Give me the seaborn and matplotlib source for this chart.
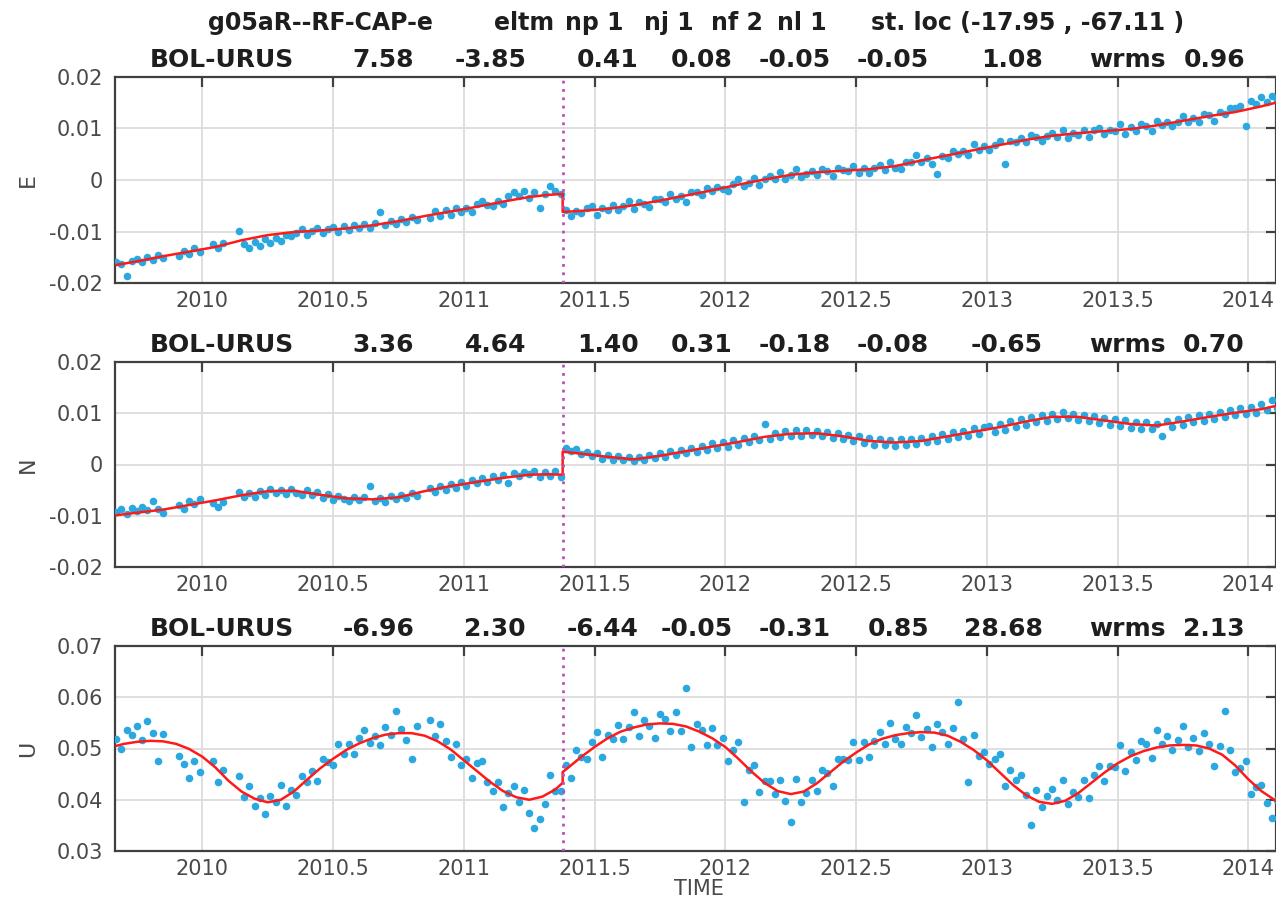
import matplotlib
matplotlib.use("Agg")
import matplotlib.pyplot as plt
import matplotlib.ticker as mticker
import numpy as np
import pandas as pd
import seaborn as sns

sns.set_theme(style="whitegrid")
plt.rcParams["font.family"] = ["DejaVu Sans"]

# ── data (decimal years, positions in mm) ───────────────────────────────────
TIME = [
    2009.67, 2009.69, 2009.71, 2009.73, 2009.75, 2009.77, 2009.79, 2009.81, 2009.83, 2009.85,
    2009.91, 2009.93, 2009.95, 2009.97, 2009.99,
    2010.04, 2010.06, 2010.08,
    2010.14, 2010.16, 2010.18, 2010.20, 2010.22, 2010.24, 2010.26, 2010.28, 2010.30, 2010.32,
    2010.34, 2010.36, 2010.38, 2010.40, 2010.42, 2010.44, 2010.46, 2010.48, 2010.50, 2010.52,
    2010.54, 2010.56, 2010.58, 2010.60, 2010.62, 2010.64, 2010.66, 2010.68, 2010.70, 2010.72,
    2010.74, 2010.76, 2010.78, 2010.80, 2010.82,
    2010.87, 2010.89, 2010.91, 2010.93, 2010.95, 2010.97, 2010.99,
    2011.01, 2011.03, 2011.05, 2011.07, 2011.09, 2011.11, 2011.13, 2011.15, 2011.17, 2011.19,
    2011.21, 2011.23, 2011.25, 2011.27, 2011.29, 2011.31, 2011.33, 2011.35, 2011.37, 2011.39,
    2011.41, 2011.43, 2011.45, 2011.47, 2011.49, 2011.51, 2011.53, 2011.55, 2011.57, 2011.59,
    2011.61, 2011.63, 2011.65, 2011.67, 2011.69, 2011.71, 2011.73, 2011.75, 2011.77, 2011.79,
    2011.81, 2011.83, 2011.85, 2011.87, 2011.89, 2011.91, 2011.93, 2011.95, 2011.97, 2011.99,
    2012.01, 2012.03, 2012.05, 2012.07, 2012.09, 2012.11, 2012.13, 2012.15, 2012.17, 2012.19,
    2012.21, 2012.23, 2012.25, 2012.27, 2012.29, 2012.31, 2012.33, 2012.35, 2012.37, 2012.39,
    2012.41, 2012.43, 2012.45, 2012.47, 2012.49, 2012.51, 2012.53, 2012.55, 2012.57, 2012.59,
    2012.61, 2012.63, 2012.65, 2012.67, 2012.69, 2012.71, 2012.73, 2012.75, 2012.77, 2012.79,
    2012.81, 2012.83, 2012.85, 2012.87, 2012.89, 2012.91, 2012.93, 2012.95, 2012.97, 2012.99,
    2013.01, 2013.03, 2013.05, 2013.07, 2013.09, 2013.11, 2013.13, 2013.15, 2013.17, 2013.19,
    2013.21, 2013.23, 2013.25, 2013.27, 2013.29, 2013.31, 2013.33, 2013.35, 2013.37, 2013.39,
    2013.41, 2013.43, 2013.45, 2013.47, 2013.49, 2013.51, 2013.53, 2013.55, 2013.57, 2013.59,
    2013.61, 2013.63, 2013.65, 2013.67, 2013.69, 2013.71, 2013.73, 2013.75, 2013.77, 2013.79,
    2013.81, 2013.83, 2013.85, 2013.87, 2013.89, 2013.91, 2013.93, 2013.95, 2013.97, 2013.99,
    2014.01, 2014.03, 2014.05, 2014.07, 2014.09, 2014.11,
]

E_MM = [
    -15.9, -16.4, -18.6, -15.7, -15.4, -15.9, -15.0, -15.5, -14.6, -15.1,
    -14.7, -13.8, -14.4, -13.3, -13.9,
    -12.5, -13.2, -12.2,
    -9.9, -12.4, -13.3, -12.0, -12.9, -11.4, -12.3, -11.2, -11.8, -10.6,
    -10.9, -10.3, -9.5, -10.6, -9.9, -9.3, -10.2, -9.6, -9.2, -10.1,
    -9.0, -9.8, -8.8, -9.3, -8.6, -9.4, -8.3, -6.3, -8.7, -7.9,
    -8.6, -7.5, -8.1, -7.2, -7.7,
    -7.3, -6.1, -7.0, -5.9, -6.7, -5.5, -6.2,
    -5.4, -6.2, -4.6, -4.0, -4.9, -5.1, -4.0, -4.6, -3.2, -2.4,
    -3.2, -2.2, -3.5, -2.4, -5.4, -2.8, -1.2, -2.2, -2.8, -5.8,
    -6.9, -6.0, -6.4, -5.4, -5.0, -6.8, -5.5, -5.8, -4.8, -5.9,
    -5.1, -4.0, -5.6, -4.3, -4.6, -5.3, -3.6, -3.7, -4.3, -2.8,
    -3.7, -3.1, -4.3, -2.4, -2.4, -3.0, -1.5, -2.2, -1.3, -1.8,
    -2.2, -0.8, 0.2, -1.1, -0.6, 0.3, -1.0, 0.2, 0.7, 0.2,
    1.5, 0.2, 1.0, 2.1, 0.5, 1.1, 1.8, 1.0, 2.2, 1.7,
    0.7, 2.3, 2.0, 1.8, 2.7, 1.4, 2.4, 1.3, 2.3, 2.9,
    2.0, 3.5, 2.4, 2.2, 3.5, 3.4, 4.8, 3.5, 4.2, 3.2,
    1.2, 4.7, 4.2, 5.7, 5.0, 5.7, 4.8, 6.9, 5.9, 6.6,
    5.8, 6.7, 7.6, 3.2, 7.6, 7.3, 8.2, 7.3, 8.8, 8.3,
    7.5, 8.5, 9.1, 8.4, 9.8, 8.2, 9.1, 8.8, 9.8, 8.4,
    9.8, 10.1, 8.9, 9.8, 9.6, 10.9, 9.0, 10.2, 9.6, 10.8,
    10.4, 9.5, 11.4, 10.6, 11.3, 10.5, 11.3, 12.4, 11.2, 12.0,
    11.3, 12.8, 12.7, 11.5, 13.2, 12.8, 13.9, 13.9, 14.3, 10.4,
    15.3, 14.7, 16.1, 15.2, 16.4, 15.6,
]

N_MM = [
    -9.2, -8.7, -9.6, -8.5, -9.1, -8.3, -8.9, -7.2, -8.6, -9.4,
    -7.9, -8.6, -7.1, -7.8, -6.8,
    -7.5, -8.2, -7.3,
    -5.4, -6.3, -5.6, -6.4, -5.2, -5.9, -4.8, -5.6, -5.0, -5.8,
    -4.7, -5.5, -5.9, -4.9, -6.0, -5.4, -6.5, -5.7, -6.9, -6.1,
    -6.7, -7.2, -6.3, -7.0, -6.4, -4.1, -7.1, -6.5, -7.3, -6.2,
    -6.8, -5.9, -6.6, -5.5, -6.1,
    -4.5, -5.3, -4.2, -4.9, -3.8, -4.5, -3.5,
    -4.1, -3.0, -3.7, -2.6, -3.4, -2.3, -3.0, -2.1, -3.6, -1.7,
    -2.3, -1.4, -1.9, -1.2, -2.5, -1.5, -2.2, -1.3, -2.4, 3.2,
    2.6, 3.0, 2.0, 2.5, 1.6, 2.2, 1.1, 1.8, 0.9, 1.6,
    0.8, 1.4, 0.6, 1.5, 0.9, 1.9, 1.2, 2.2, 1.4, 2.6,
    1.9, 2.9, 2.2, 3.3, 2.5, 3.7, 2.8, 4.1, 3.2, 4.4,
    3.5, 4.8, 3.9, 5.1, 4.3, 5.6, 4.7, 8.0, 5.0, 6.2,
    5.3, 6.5, 5.6, 6.7, 5.5, 6.8, 5.7, 6.6, 5.5, 6.4,
    5.2, 6.2, 5.0, 5.8, 4.6, 5.5, 4.2, 5.1, 3.9, 4.9,
    3.8, 4.8, 3.7, 4.9, 3.8, 5.0, 4.0, 5.2, 4.3, 5.6,
    4.6, 5.9, 4.9, 6.4, 5.3, 6.6, 5.6, 7.1, 6.0, 7.4,
    7.5, 6.4, 7.9, 6.8, 8.4, 7.3, 8.8, 7.8, 9.2, 8.3,
    9.6, 8.5, 9.9, 8.8, 10.2, 9.0, 9.9, 8.7, 9.7, 8.4,
    9.4, 8.1, 9.0, 7.8, 8.9, 7.5, 8.6, 7.2, 8.3, 7.0,
    8.2, 6.9, 8.0, 5.6, 8.4, 7.4, 8.9, 7.8, 9.3, 8.2,
    9.6, 8.5, 9.9, 8.8, 10.3, 9.2, 10.6, 9.6, 11.0, 9.8,
    11.3, 10.0, 11.8, 10.6, 12.6, 11.1,
]

U_MM = [
    51.8, 49.9, 53.6, 52.7, 54.4, 51.6, 55.4, 53.0, 47.6, 52.8,
    48.6, 46.9, 44.3, 47.6, 45.5,
    47.6, 43.4, 45.9,
    44.6, 40.5, 42.7, 38.7, 40.3, 37.3, 40.8, 39.5, 42.8, 38.7,
    41.9, 41.0, 44.7, 43.4, 45.7, 43.7, 47.9, 47.4, 46.8, 50.8,
    49.0, 50.8, 48.9, 52.1, 53.7, 51.1, 52.4, 50.6, 54.2, 52.6,
    57.3, 53.9, 51.6, 48.0, 54.4,
    55.6, 52.4, 54.8, 51.5, 48.3, 50.9, 46.7,
    47.9, 44.2, 47.2, 47.6, 43.5, 41.7, 43.4, 38.5, 41.4, 42.7,
    39.6, 42.0, 37.4, 34.5, 36.2, 39.1, 44.8, 41.8, 41.8, 46.7,
    44.3, 49.8, 48.4, 48.0, 51.3, 53.2, 48.3, 52.6, 51.9, 54.6,
    51.9, 54.2, 57.1, 52.4, 55.6, 54.3, 52.0, 56.7, 55.7, 53.4,
    57.2, 53.5, 61.9, 50.3, 54.7, 53.7, 50.7, 54.0, 50.7, 52.0,
    47.6, 49.7, 51.2, 39.5, 45.8, 46.7, 41.6, 43.7, 43.7, 41.2,
    43.8, 39.7, 35.7, 44.1, 39.5, 41.3, 43.8, 41.8, 45.8, 45.3,
    42.7, 48.0, 48.0, 47.7, 51.2, 47.7, 51.2, 48.4, 51.4, 53.3,
    50.8, 54.9, 51.8, 50.8, 54.1, 53.0, 56.5, 52.2, 53.8, 50.3,
    54.8, 53.2, 50.9, 54.0, 59.1, 51.8, 43.4, 52.7, 48.5, 49.3,
    46.9, 48.0, 49.0, 42.6, 45.9, 43.8, 44.8, 41.0, 35.0, 42.0,
    38.5, 40.8, 42.1, 39.9, 43.9, 39.1, 41.6, 40.5, 43.9, 40.3,
    44.9, 46.5, 43.7, 46.6, 46.3, 50.6, 45.7, 49.3, 47.7, 51.4,
    50.8, 48.1, 53.6, 50.8, 52.5, 49.8, 51.7, 54.3, 50.3, 52.0,
    49.5, 53.0, 50.8, 46.5, 50.4, 57.3, 49.7, 45.5, 46.2, 47.5,
    41.1, 42.4, 42.9, 39.4, 36.4, 40.0,
]

# fitted model (trend + seasonal + offset)
FIT_T = [
    2009.67, 2009.75, 2009.85, 2009.95,
    2010.05, 2010.15, 2010.25, 2010.35, 2010.45, 2010.55, 2010.65, 2010.75, 2010.85, 2010.95,
    2011.05, 2011.15, 2011.25, 2011.32, 2011.378, 2011.378, 2011.45, 2011.55, 2011.65, 2011.75, 2011.85, 2011.95,
    2012.05, 2012.15, 2012.25, 2012.35, 2012.45, 2012.55, 2012.65, 2012.75, 2012.85, 2012.95,
    2013.05, 2013.15, 2013.25, 2013.35, 2013.45, 2013.55, 2013.65, 2013.75, 2013.85, 2013.95,
    2014.05, 2014.12,
]
E_FIT_MM = [
    -16.5, -15.8, -14.8, -13.9,
    -13.0, -11.7, -10.7, -10.1, -9.8, -9.4, -8.8, -8.0, -7.0, -6.1,
    -5.2, -4.2, -3.3, -2.9, -2.7, -6.2, -6.0, -5.6, -4.9, -4.0, -3.0, -2.0,
    -0.9, 0.1, 1.0, 1.5, 1.8, 2.1, 2.7, 3.8, 4.8, 5.8,
    6.8, 7.8, 8.6, 9.1, 9.5, 9.9, 10.6, 11.5, 12.4, 13.2,
    14.3, 15.2,
]
N_FIT_MM = [
    -9.9, -9.4, -8.8, -7.9,
    -7.0, -6.0, -5.2, -5.1, -5.9, -6.6, -6.8, -6.4, -5.2, -4.2,
    -3.4, -2.6, -2.0, -1.9, -2.0, 2.5, 2.1, 1.5, 1.0, 1.7, 2.6, 3.5,
    4.4, 5.4, 6.0, 6.1, 5.5, 4.6, 4.3, 4.6, 5.5, 6.4,
    7.3, 8.4, 9.3, 9.3, 8.6, 7.9, 7.6, 8.4, 9.3, 10.1,
    10.8, 11.6,
]
FIT_T_U = [
    2009.67, 2009.70, 2009.75, 2009.80, 2009.85, 2009.90, 2009.95,
    2010.00, 2010.05, 2010.10, 2010.15, 2010.20, 2010.25, 2010.30, 2010.35, 2010.40, 2010.45,
    2010.50, 2010.55, 2010.60, 2010.65, 2010.70, 2010.75, 2010.80, 2010.85, 2010.90, 2010.95,
    2011.00, 2011.05, 2011.10, 2011.15, 2011.20, 2011.25, 2011.30, 2011.35, 2011.378, 2011.378,
    2011.40, 2011.45, 2011.50, 2011.55, 2011.60, 2011.65, 2011.70, 2011.75, 2011.80, 2011.85,
    2011.90, 2011.95,
    2012.00, 2012.05, 2012.10, 2012.15, 2012.20, 2012.25, 2012.30, 2012.35, 2012.40, 2012.45,
    2012.50, 2012.55, 2012.60, 2012.65, 2012.70, 2012.75, 2012.80, 2012.85, 2012.90, 2012.95,
    2013.00, 2013.05, 2013.10, 2013.15, 2013.20, 2013.25, 2013.30, 2013.35, 2013.40, 2013.45,
    2013.50, 2013.55, 2013.60, 2013.65, 2013.70, 2013.75, 2013.80, 2013.85, 2013.90, 2013.95,
    2014.00, 2014.05, 2014.12,
]
U_FIT_MM = [
    50.5, 50.9, 51.3, 51.5, 51.4, 50.9, 49.9,
    48.4, 46.3, 43.7, 41.6, 40.2, 39.5, 40.0, 41.6, 43.9, 46.1,
    48.0, 49.7, 51.0, 52.0, 52.7, 53.0, 53.0, 52.5, 51.4, 49.8,
    47.7, 45.6, 43.5, 41.7, 40.5, 40.0, 40.6, 42.0, 43.3, 45.4,
    46.3, 48.4, 50.3, 52.0, 53.3, 54.1, 54.7, 54.9, 54.8, 54.3,
    53.3, 52.0,
    50.3, 48.0, 45.5, 43.3, 41.7, 41.1, 41.6, 43.2, 45.3, 47.4,
    49.2, 50.8, 51.9, 52.6, 53.0, 53.2, 53.1, 52.5, 51.3, 49.7,
    47.7, 45.3, 42.9, 40.9, 39.6, 39.2, 39.8, 41.3, 43.3, 45.3,
    47.1, 48.5, 49.5, 50.2, 50.6, 50.7, 50.6, 50.0, 48.8, 46.7,
    44.0, 41.7, 39.3,
]

OFFSET_T = 2011.378  # equipment / offset epoch

TITLE_TOKENS = ["g05aR--RF-CAP-e", "eltm", "np 1", "nj 1", "nf 2", "nl 1",
                "st. loc (-17.95 , -67.11 )"]
HEAD_E = ["BOL-URUS", "7.58", "-3.85", "0.41", "0.08", "-0.05", "-0.05", "1.08", "wrms", "0.96"]
HEAD_N = ["BOL-URUS", "3.36", "4.64", "1.40", "0.31", "-0.18", "-0.08", "-0.65", "wrms", "0.70"]
HEAD_U = ["BOL-URUS", "-6.96", "2.30", "-6.44", "-0.05", "-0.31", "0.85", "28.68", "wrms", "2.13"]

XTICKS = [2010, 2010.5, 2011, 2011.5, 2012, 2012.5, 2013, 2013.5, 2014]
YTICKS_EN = [-0.02, -0.01, 0.0, 0.01, 0.02]
YTICKS_U = [0.03, 0.04, 0.05, 0.06, 0.07]

for arr in (E_MM, N_MM, U_MM):
    assert len(arr) == len(TIME), len(arr)
assert len(E_FIT_MM) == len(FIT_T) and len(N_FIT_MM) == len(FIT_T)
assert len(U_FIT_MM) == len(FIT_T_U)

# ── style / layout (pixels of the 1276x900 canvas) ──────────────────────────
BLUE = "#2aa8df"
RED = "#ff1a1a"
MAGENTA = "#bb4fbb"
GRID = "#dcdcdc"
SPINE = "#404040"
TICK_TXT = "#4a4a4a"
HEAD_TXT = "#1e1e1e"

W, H = 1276, 900
X0, X1 = 115, 1276
XLIM = (2009.666, 2014.106)
HEAD_X = [294, 414, 526, 639, 733, 831, 929, 1043, 1166, 1245]    # right edges
TITLE_X = [320, 524, 594, 669, 737, 802, 1028]                      # centres

fmt = mticker.FuncFormatter(lambda v, _: f"{v:g}")

fig = plt.figure(figsize=(W / 100, H / 100), dpi=100)

panels = [
    ("E", E_MM, FIT_T, E_FIT_MM, 77, 283, (-0.02, 0.02), YTICKS_EN, HEAD_E, 66.7),
    ("N", N_MM, FIT_T, N_FIT_MM, 362, 567, (-0.02, 0.02), YTICKS_EN, HEAD_N, 351.7),
    ("U", U_MM, FIT_T_U, U_FIT_MM, 646, 851, (0.03, 0.07), YTICKS_U, HEAD_U, 635.7),
]

for name, obs, t_fit, fit, top, bot, ylim, yticks, heads, base in panels:
    ax = fig.add_axes([X0 / W, 1 - bot / H, (X1 - X0) / W, (bot - top) / H])

    df = pd.DataFrame({"t": TIME, "v": np.asarray(obs) / 1000.0})
    sns.scatterplot(data=df, x="t", y="v", ax=ax, color=BLUE, s=30,
                    linewidth=0, legend=False, zorder=3)
    fit_df = pd.DataFrame({"t": t_fit, "v": np.asarray(fit) / 1000.0})
    sns.lineplot(data=fit_df, x="t", y="v", ax=ax, color=RED, linewidth=1.8,
                 estimator=None, sort=False, zorder=4)
    ax.axvline(OFFSET_T, color=MAGENTA, linewidth=2, linestyle=(0, (1, 2)), zorder=5)

    ax.set_xlim(*XLIM)
    ax.set_ylim(*ylim)
    ax.set_xticks(XTICKS)
    ax.set_yticks(yticks)
    ax.xaxis.set_major_formatter(fmt)
    ax.yaxis.set_major_formatter(fmt)
    ax.tick_params(direction="in", length=7.5, width=1.6, color=SPINE,
                   labelcolor=TICK_TXT, labelsize=15, top=True, right=True)
    ax.tick_params(axis="x", pad=6)
    ax.tick_params(axis="y", pad=8.5)
    ax.grid(True, color=GRID, linewidth=1.3)
    ax.set_axisbelow(True)
    for sp in ax.spines.values():
        sp.set_visible(True)
        sp.set_color(SPINE)
        sp.set_linewidth(1.6)

    ax.set_ylabel(name, fontsize=16, color=TICK_TXT)
    ax.yaxis.set_label_coords(-0.066, 0.5)
    if name == "U":
        ax.set_xlabel("TIME", fontsize=15, color=TICK_TXT)
        ax.xaxis.set_label_coords(0.503, -0.135)
    else:
        ax.set_xlabel("")

    for tok, xr in zip(heads, HEAD_X):
        fig.text(xr / W, 1 - base / H, tok, ha="right", va="baseline",
                 fontsize=18, fontweight="bold", color=HEAD_TXT)

for tok, xc in zip(TITLE_TOKENS, TITLE_X):
    fig.text(xc / W, 1 - 30 / H, tok, ha="center", va="baseline",
             fontsize=17, fontweight="bold", color=HEAD_TXT)

fig.savefig("out.png", dpi=100)
